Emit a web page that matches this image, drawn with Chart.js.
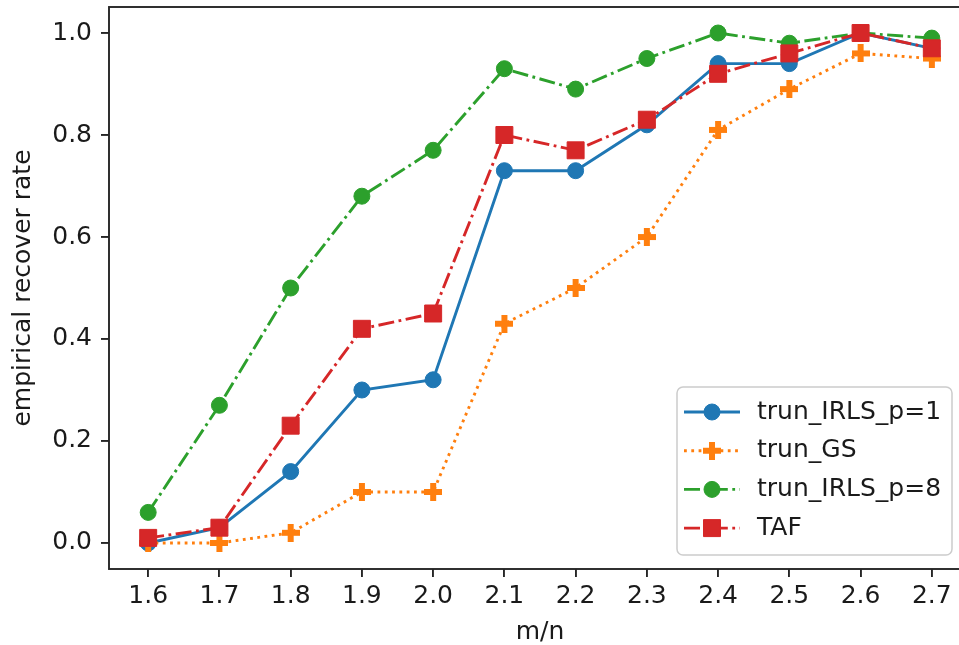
<!DOCTYPE html>
<html>
<head>
<meta charset="utf-8">
<script src="https://cdn.jsdelivr.net/npm/chart.js@4.4.0/dist/chart.umd.min.js"></script>
<style>
  html, body { margin: 0; padding: 0; background: #fff; overflow: hidden; }
  /* the plot's right edge runs past the 959px window, as in the original */
  #wrap { position: relative; width: 980px; height: 645px; }
</style>
</head>
<body>
<div id="wrap"><canvas id="chart"></canvas></div>
<script>
  // m/n ratios on the x axis
  var ratios = [1.6, 1.7, 1.8, 1.9, 2.0, 2.1, 2.2, 2.3, 2.4, 2.5, 2.6, 2.7];

  // empirical recover rate per method
  var irlsP1 = [0.00, 0.03, 0.14, 0.30, 0.32, 0.73, 0.73, 0.82, 0.94, 0.94, 1.00, 0.97];
  var truncGS = [0.00, 0.00, 0.02, 0.10, 0.10, 0.43, 0.50, 0.60, 0.81, 0.89, 0.96, 0.95];
  var irlsP8 = [0.06, 0.27, 0.50, 0.68, 0.77, 0.93, 0.89, 0.95, 1.00, 0.98, 1.00, 0.99];
  var taf = [0.01, 0.03, 0.23, 0.42, 0.45, 0.80, 0.77, 0.83, 0.92, 0.96, 1.00, 0.97];

  var seriesNames = ["trun_IRLS_p=1", "trun_GS", "trun_IRLS_p=8", "TAF"];
  var xTicks = ratios;
  var yTicks = [0.0, 0.2, 0.4, 0.6, 0.8, 1.0];

  var FONT = "'DejaVu Sans', sans-serif";
  var FONT_SIZE = 25;
  var TEXT = "#1a1a1a";
  var LW = 2.9;
  var DOTTED = [2.8, 4.5];
  var DASHDOT = [16, 4.5, 2.8, 4.5];

  // matplotlib's filled "P" marker — Chart.js has no filled plus, so build one
  function plusMarker(color, size) {
    var c = document.createElement("canvas");
    c.width = size;
    c.height = size;
    var g = c.getContext("2d");
    var a = size / 3;
    g.fillStyle = color;
    g.fillRect(a, 0, a, size);
    g.fillRect(0, a, size, a);
    return c;
  }

  function pairs(ys) {
    return ratios.map(function (x, i) { return { x: x, y: ys[i] }; });
  }

  function series(name, ys, color, dash, style, radius, order) {
    return {
      label: name,
      data: pairs(ys),
      borderColor: color,
      backgroundColor: color,
      borderWidth: LW,
      borderDash: dash,
      pointStyle: style,
      pointRadius: radius,
      pointBorderWidth: 1,
      pointBorderColor: color,
      pointBackgroundColor: color,
      tension: 0,
      fill: false,
      order: order,
    };
  }

  // no label overhang padding: the plot box is placed exactly
  function noPadding(s) {
    s.paddingLeft = 0;
    s.paddingRight = 0;
    s.paddingTop = 0;
    s.paddingBottom = 0;
  }

  // frame: matplotlib draws all four spines
  var frame = {
    id: "frame",
    afterDatasetsDraw: function (chart) {
      var a = chart.chartArea, ctx = chart.ctx;
      ctx.save();
      ctx.strokeStyle = "#262626";
      ctx.lineWidth = 1.9;
      ctx.strokeRect(a.left, a.top, a.right - a.left, a.bottom - a.top);
      ctx.restore();
    },
  };

  // legend box in the lower right, matplotlib style
  var legendBox = {
    id: "legendBox",
    afterDraw: function (chart) {
      var a = chart.chartArea, ctx = chart.ctx;
      var right = a.right - 19, bottom = a.bottom - 14;
      var w = 275, h = 168;
      var left = right - w, top = bottom - h;
      ctx.save();
      ctx.beginPath();
      if (ctx.roundRect) ctx.roundRect(left, top, w, h, 6);
      else ctx.rect(left, top, w, h);
      ctx.fillStyle = "rgba(255,255,255,0.8)";
      ctx.fill();
      ctx.strokeStyle = "#cccccc";
      ctx.lineWidth = 1.5;
      ctx.stroke();

      chart.data.datasets.forEach(function (ds, i) {
        var y = top + 25 + i * 38.7;
        var x0 = left + 7, x1 = left + 63, xm = (x0 + x1) / 2;
        ctx.strokeStyle = ds.borderColor;
        ctx.lineWidth = LW;
        ctx.setLineDash(ds.borderDash || []);
        ctx.beginPath();
        ctx.moveTo(x0, y);
        ctx.lineTo(x1, y);
        ctx.stroke();
        ctx.setLineDash([]);
        ctx.fillStyle = ds.pointBackgroundColor;
        ctx.strokeStyle = ds.pointBorderColor;
        ctx.lineWidth = ds.pointBorderWidth;
        Chart.helpers.drawPoint(ctx, { pointStyle: ds.pointStyle, radius: ds.pointRadius, borderWidth: 1 }, xm, y);
        ctx.fillStyle = TEXT;
        ctx.font = FONT_SIZE + "px " + FONT;
        ctx.textAlign = "left";
        ctx.textBaseline = "middle";
        ctx.fillText(ds.label, left + 80, y);
      });
      ctx.restore();
    },
  };

  new Chart(document.getElementById("chart"), {
    type: "line",
    data: {
      datasets: [
        series(seriesNames[0], irlsP1, "#1f77b4", [], "circle", 8, 4),
        series(seriesNames[1], truncGS, "#ff7f0e", DOTTED, plusMarker("#ff7f0e", 18), 9, 3),
        series(seriesNames[2], irlsP8, "#2ca02c", DASHDOT, "circle", 8, 2),
        series(seriesNames[3], taf, "#d62728", DASHDOT, "rect", 12, 1),
      ],
    },
    options: {
      responsive: true,
      maintainAspectRatio: false,
      animation: false,
      events: [],
      layout: { autoPadding: false, padding: { top: 7, right: 9, left: 0, bottom: 0 } },
      scales: {
        x: {
          type: "linear",
          min: 1.545,
          max: 2.755,
          afterFit: function (s) { s.height = 76; noPadding(s); },
          afterBuildTicks: function (s) { s.ticks = xTicks.map(function (v) { return { value: v }; }); },
          grid: { drawOnChartArea: false, drawTicks: true, tickLength: 8, color: "#262626", lineWidth: 1.9 },
          border: { display: false },
          ticks: {
            color: TEXT,
            font: { family: FONT, size: FONT_SIZE },
            padding: 4,
            maxRotation: 0,
            autoSkip: false,
            callback: function (v) { return v.toFixed(1); },
          },
          title: {
            display: true,
            text: "m/n",
            color: TEXT,
            font: { family: FONT, size: FONT_SIZE, lineHeight: 1 },
            padding: { top: 0, bottom: 0 },
          },
        },
        y: {
          type: "linear",
          min: -0.051,
          max: 1.051,
          afterFit: function (s) { s.width = 109; noPadding(s); },
          afterBuildTicks: function (s) { s.ticks = yTicks.map(function (v) { return { value: v }; }); },
          grid: { drawOnChartArea: false, drawTicks: true, tickLength: 8, color: "#262626", lineWidth: 1.9 },
          border: { display: false },
          ticks: {
            color: TEXT,
            font: { family: FONT, size: FONT_SIZE },
            padding: 9,
            autoSkip: false,
            callback: function (v) { return v.toFixed(1); },
          },
          title: {
            display: true,
            text: "empirical recover rate",
            color: TEXT,
            font: { family: FONT, size: FONT_SIZE, lineHeight: 1.2 },
            padding: { top: 8, bottom: 0 },
          },
        },
      },
      plugins: {
        legend: { display: false },
        tooltip: { enabled: false },
      },
    },
    plugins: [frame, legendBox],
  });
</script>
</body>
</html>
